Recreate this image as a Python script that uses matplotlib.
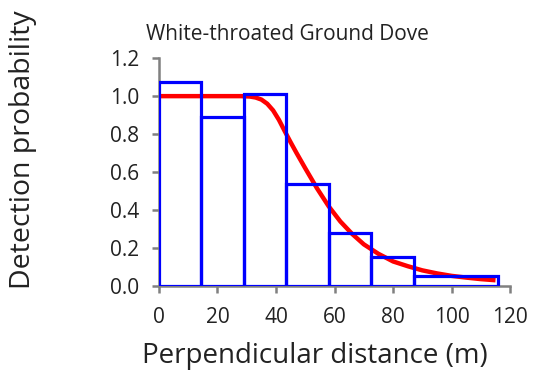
import matplotlib.pyplot as plt
import numpy as np

# histogram of detections, scaled to detection probability
bin_edges = [0, 14.5, 29, 43.5, 58, 72.5, 87, 116]
bar_heights = [1.075, 0.89, 1.01, 0.535, 0.28, 0.155, 0.053]

# fitted detection function
curve_x = [0, 10, 20, 28, 31, 33, 35, 37, 39, 41, 43, 45, 47, 50, 54, 58, 62, 66, 70, 75, 80, 85, 90, 95, 100, 105, 110, 115]
curve_y = [1.0, 1.0, 1.0, 1.0, 0.998, 0.993, 0.982, 0.96, 0.925, 0.875, 0.815, 0.757, 0.701, 0.62, 0.515, 0.42, 0.34, 0.275, 0.22, 0.17, 0.13, 0.105, 0.083, 0.067, 0.054, 0.045, 0.037, 0.031]

xticks = [0, 20, 40, 60, 80, 100, 120]
yticks = [0.0, 0.2, 0.4, 0.6, 0.8, 1.0, 1.2]

plt.rcParams['font.family'] = ['Open Sans', 'DejaVu Sans']

fig = plt.figure(figsize=(5.37, 3.80), dpi=100)
ax = fig.add_axes([0.296, 0.247, 0.654, 0.60])

ax.plot(curve_x, curve_y, color='#ff0000', lw=3.2, solid_capstyle='butt', zorder=2)

edges = np.array(bin_edges)
ax.bar(edges[:-1], bar_heights, width=np.diff(edges), align='edge',
       fill=False, edgecolor='#0000ff', linewidth=2.3, zorder=3)

ax.set_xlim(0, 120)
ax.set_ylim(0, 1.2)
ax.set_xticks(xticks)
ax.set_yticks(yticks)
ax.set_yticklabels([f"{v:.1f}" for v in yticks])

for s in ['top', 'right']:
    ax.spines[s].set_visible(False)
for s in ['left', 'bottom']:
    ax.spines[s].set_color('#808080')
    ax.spines[s].set_linewidth(1.8)
ax.tick_params(colors='#808080', width=1.8, length=5, labelsize=15, labelcolor='#222222')
ax.tick_params(axis='x', pad=10)
ax.tick_params(axis='y', pad=9)

fig.text(0.535, 0.908, 'White-throated Ground Dove', ha='center', va='center', fontsize=15, color='#222222')
fig.text(0.587, 0.062, 'Perpendicular distance (m)', ha='center', va='center', fontsize=20, color='#222222')
fig.text(0.043, 0.605, 'Detection probability', ha='center', va='center', rotation=90, fontsize=20.5, color='#222222')

fig.savefig('out.png', dpi=100)
